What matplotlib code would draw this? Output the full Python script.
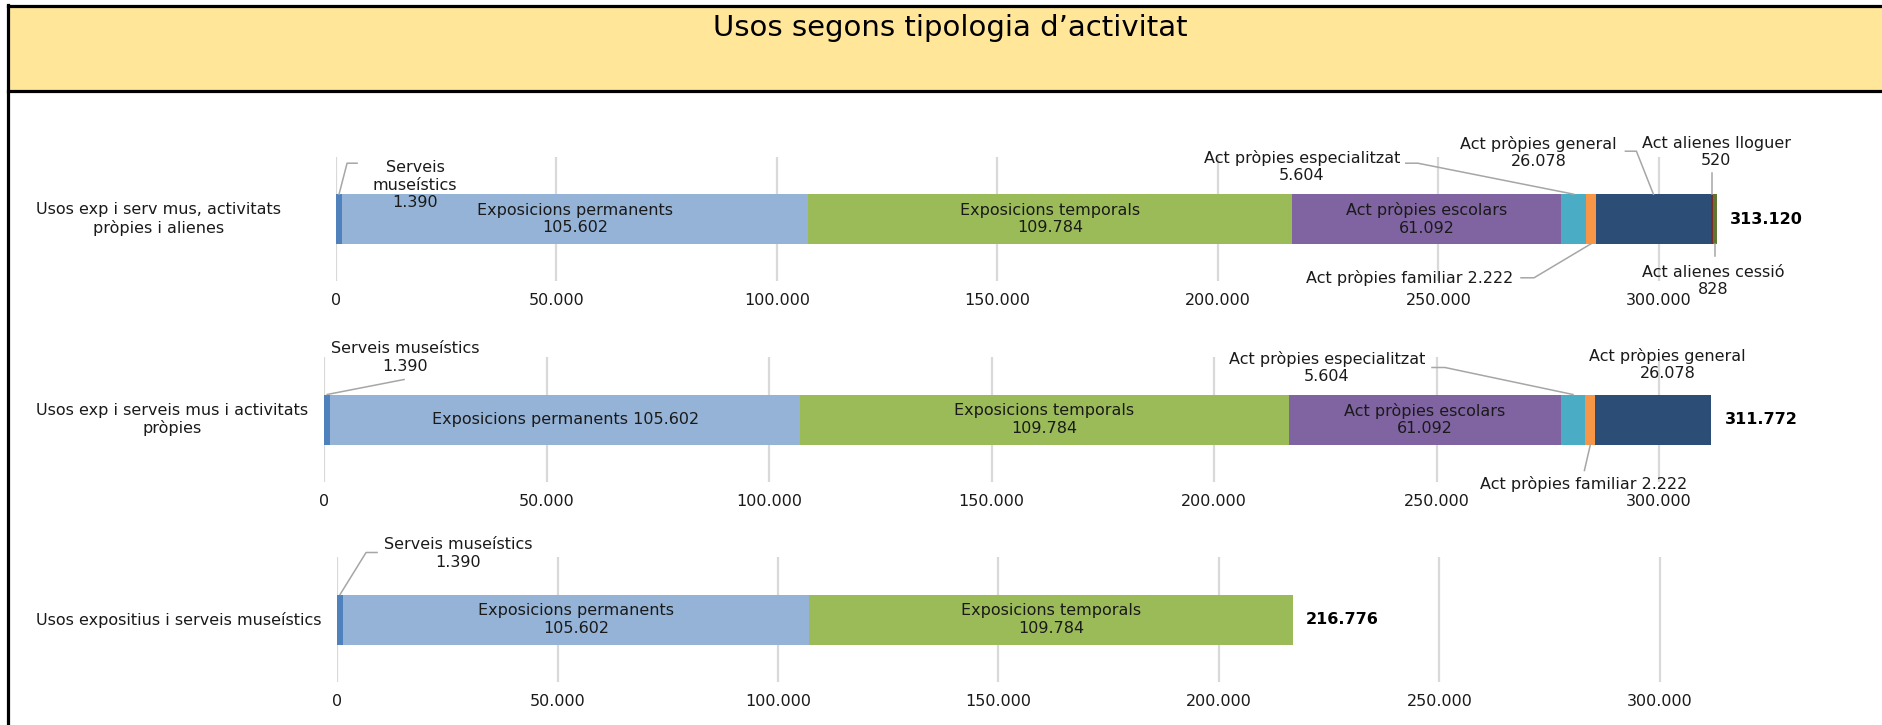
import matplotlib
matplotlib.use("Agg")
import matplotlib.pyplot as plt
from matplotlib.lines import Line2D
from matplotlib.patches import Rectangle
from matplotlib.transforms import IdentityTransform

# ---Data---
title = "Usos segons tipologia d’activitat"
categories = ["Usos exp i serv mus, activitats\npròpies i alienes",
              "Usos exp i serveis mus i activitats\npròpies",
              "Usos expositius i serveis museístics"]
series_names = ["Serveis museístics", "Exposicions permanents", "Exposicions temporals",
                "Act pròpies escolars", "Act pròpies especialitzat", "Act pròpies familiar",
                "Act pròpies general", "Act alienes lloguer", "Act alienes cessió"]
series_colors = ["#4F81BD", "#95B3D7", "#9BBB59", "#8064A2", "#4BACC6",
                 "#F79646", "#2C4D75", "#772C2A", "#5F7530"]
values_all = [1390, 105602, 109784, 61092, 5604, 2222, 26078, 520, 828]
values_propies = [1390, 105602, 109784, 61092, 5604, 2222, 26078]
values_expositius = [1390, 105602, 109784]
x_ticks = [0, 50000, 100000, 150000, 200000, 250000, 300000]

W, H = 1883, 725
FS = 11.5
TXT = "#1a1a1a"


def fmt(v):
    return f"{v:,}".replace(",", ".")


def px_rect(x0, y_top, x1, y_bot):
    # pixel box (top-down) -> figure fraction [l, b, w, h]
    return [x0 / W, 1 - y_bot / H, (x1 - x0) / W, (y_bot - y_top) / H]


fig = plt.figure(figsize=(W / 100, H / 100), dpi=100)
plt.rcParams['font.family'] = ['DejaVu Sans']

# title band and frame
fig.add_artist(Rectangle((8 / W, 1 - 90 / H), 1, (90 - 6) / H, transform=fig.transFigure,
                         facecolor="#FFE699", edgecolor="none", zorder=0))
fig.add_artist(Line2D([8 / W, 1], [1 - 6 / H, 1 - 6 / H], transform=fig.transFigure, color="black", lw=2.3))
fig.add_artist(Line2D([8 / W, 1], [1 - 90.5 / H, 1 - 90.5 / H], transform=fig.transFigure, color="black", lw=2.3))
fig.add_artist(Line2D([8.5 / W, 8.5 / W], [0, 1 - 5 / H], transform=fig.transFigure, color="black", lw=2.3))
fig.text(950 / W, 1 - 36.5 / H, title, ha="center", va="baseline", fontsize=21, color="black")

# panel layout: zero px, px per 50.000, grid top, grid bottom
panels = [
    dict(values=values_all, cat=categories[0], zero=336, step=220.5, top=157, bot=281),
    dict(values=values_propies, cat=categories[1], zero=324, step=222.5, top=357, bot=482),
    dict(values=values_expositius, cat=categories[2], zero=337, step=220.5, top=557, bot=682),
]

# callouts: series index -> (side, text offset dx, dy from anchor, leader offsets, single line)
callouts = [
    {0: ("top", 76, -9, [(8, -31), (18, -31)], "three"),
     4: ("top", -272, -28, [(-156, -31), (-168, -31)], None),
     6: ("top", -115, -42, [(-17, -43), (-28, -43)], None),
     7: ("top", 4, -42, [(0, -21)], None),
     5: ("bottom", -181, 34, [(-57, 34), (-70, 34)], "one"),
     8: ("bottom", -2, 37, [(0, 12)], None)},
    {0: ("top", 78, -37, [(77, -15)], None),
     4: ("top", -246, -27, [(-128, -27), (-141, -27)], None),
     6: ("top", 14, -30, [], None),
     5: ("bottom", -7, 40, [(-6, 26)], "one")},
    {0: ("top", 118, -41, [(26, -42), (37, -42)], None)},
]
inside = [1, 2, 3]

xmax = 340000
for p, pan in enumerate(panels):
    width_px = xmax / 50000 * pan["step"]
    ax = fig.add_axes(px_rect(pan["zero"], pan["top"], pan["zero"] + width_px, pan["bot"]))
    ax.set_xlim(0, xmax)
    ax.set_ylim(-0.5, 0.5)
    ax.set_xticks(x_ticks)
    ax.set_xticklabels([fmt(t) for t in x_ticks])
    ax.set_yticks([])
    ax.tick_params(axis="x", length=0, pad=9, labelsize=FS, labelcolor=TXT)
    ax.grid(axis="x", color="#D9D9D9", lw=1.6)
    ax.set_axisbelow(True)
    for s in ax.spines.values():
        s.set_visible(False)
    ax.patch.set_alpha(0)

    vals = pan["values"]
    left = 0
    lefts = []
    for i, v in enumerate(vals):
        ax.barh(0, v, left=left, height=0.4, color=series_colors[i], edgecolor="none", zorder=2)
        lefts.append(left)
        left += v
    total = left

    # category label
    ax.text(36, 0.5 * (H - pan["top"] + H - pan["bot"]), pan["cat"], transform=IdentityTransform(),
            ha="left", va="center", multialignment="center", fontsize=FS, color=TXT)

    # labels inside bars
    for i in inside:
        if i < len(vals):
            sep = " " if (p == 1 and i == 1) else "\n"
            ax.text(lefts[i] + vals[i] / 2, 0, series_names[i] + sep + fmt(vals[i]),
                    ha="center", va="center", fontsize=FS, color=TXT, zorder=3)

    # total
    ax.annotate(fmt(total), xy=(total, 0), xytext=(13, 0), textcoords="offset pixels",
                ha="left", va="center", fontsize=FS, fontweight="bold", color="black")

    # callouts with leader lines (pixel space)
    for i, (side, dx, dy, leader, style) in callouts[p].items():
        yedge = 0.2 if side == "top" else -0.2
        ax_x, ax_y = ax.transData.transform((lefts[i] + vals[i] / 2, yedge))
        if style == "three":
            txt = "Serveis\nmuseístics\n" + fmt(vals[i])
        elif style == "one":
            txt = series_names[i] + " " + fmt(vals[i])
        else:
            txt = series_names[i] + "\n" + fmt(vals[i])
        fig.text(ax_x + dx, ax_y - dy, txt, transform=IdentityTransform(), ha="center", va="center",
                 multialignment="center", fontsize=FS, color=TXT)
        if leader:
            xs = [ax_x] + [ax_x + a for a, b in leader]
            ys = [ax_y] + [ax_y - b for a, b in leader]
            fig.add_artist(Line2D(xs, ys, transform=IdentityTransform(), color="#A6A6A6", lw=1.1))

fig.savefig("out.png", dpi=100)
